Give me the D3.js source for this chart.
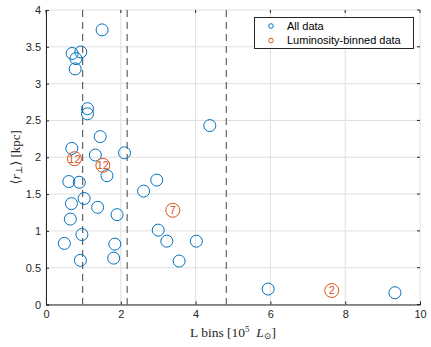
<!DOCTYPE html>
<html><head><meta charset="utf-8">
<script src="https://cdn.jsdelivr.net/npm/d3@7"></script>
<style>body{margin:0;background:#fff}svg{display:block}</style>
</head><body>
<svg id="c" width="431" height="347"></svg>
<script>
const allX = [1.50,0.70,0.93,0.80,0.78,1.11,1.11,4.38,1.45,0.69,1.32,2.10,1.63,0.61,0.89,2.96,2.61,0.68,1.02,1.38,1.90,0.65,0.96,3.00,0.49,1.84,3.23,4.02,0.92,1.81,3.56,5.94,9.33];
const allY = [3.73,3.41,3.43,3.34,3.20,2.66,2.59,2.43,2.28,2.12,2.03,2.06,1.75,1.67,1.66,1.69,1.54,1.37,1.44,1.32,1.22,1.16,0.95,1.01,0.83,0.82,0.86,0.86,0.60,0.63,0.59,0.21,0.16];
const binX = [0.76,1.52,3.39,7.64];
const binY = [1.98,1.89,1.28,0.19];
const binN = ["12","12","7","2"];
const binEdges = [0.98,2.17,4.82];
const xTicks = [0,2,4,6,8,10];
const yTicks = [0,0.5,1,1.5,2,2.5,3,3.5,4];
const legendLabels = ["All data","Luminosity-binned data"];

const svg = d3.select("#c");
const L=46,R=420,T=10,B=304.5;
const x = d3.scaleLinear().domain([0,10]).range([L,R]);
const y = d3.scaleLinear().domain([0,4]).range([B,T]);
const blue="#0072BD", red="#D95319";

// grid
svg.append("g").selectAll("line").data(xTicks).join("line")
  .attr("x1",d=>x(d)).attr("x2",d=>x(d)).attr("y1",T).attr("y2",B)
  .attr("stroke","#dfdfdf").attr("stroke-width",1);
svg.append("g").selectAll("line").data(yTicks).join("line")
  .attr("y1",d=>y(d)).attr("y2",d=>y(d)).attr("x1",L).attr("x2",R)
  .attr("stroke","#dfdfdf").attr("stroke-width",1);

// dashed bin edges
svg.append("g").selectAll("line").data(binEdges).join("line")
  .attr("x1",d=>x(d)).attr("x2",d=>x(d)).attr("y1",T).attr("y2",B)
  .attr("stroke","#555").attr("stroke-width",1.1).attr("stroke-dasharray","7,5");

// axes
const fontSans = "'Liberation Sans', Arial, Helvetica, sans-serif";
const xa = svg.append("g").attr("transform",`translate(0,${B})`)
  .call(d3.axisBottom(x).tickValues(xTicks).tickSize(-3).tickPadding(6).tickFormat(d3.format("d")));
const ya = svg.append("g").attr("transform",`translate(${L},0)`)
  .call(d3.axisLeft(y).tickValues(yTicks).tickSize(-3).tickPadding(5).tickFormat(d=>String(d)));
[xa,ya].forEach(a=>{
  a.select(".domain").attr("stroke","#262626").attr("stroke-width",1);
  a.selectAll(".tick line").attr("stroke","#262626");
  a.selectAll("text").attr("fill","#262626").style("font-family",fontSans).style("font-size","11px");
});
// right and top ticks
svg.append("g").selectAll("line").data(yTicks).join("line")
  .attr("x1",R).attr("x2",R-3).attr("y1",d=>y(d)).attr("y2",d=>y(d)).attr("stroke","#262626");
svg.append("g").selectAll("line").data(xTicks).join("line")
  .attr("x1",d=>x(d)).attr("x2",d=>x(d)).attr("y1",T).attr("y2",T+3).attr("stroke","#262626");

// points
svg.append("g").selectAll("circle").data(allX).join("circle")
  .attr("cx",d=>x(d)).attr("cy",(d,i)=>y(allY[i])).attr("r",6)
  .attr("fill","none").attr("stroke",blue).attr("stroke-width",1);

const bg = svg.append("g").selectAll("g").data(binX).join("g")
  .attr("transform",(d,i)=>`translate(${x(d)},${y(binY[i])})`);
bg.append("circle").attr("r",7).attr("fill","none").attr("stroke",red).attr("stroke-width",1);
bg.append("text").text((d,i)=>binN[i]).attr("text-anchor","middle").attr("dy","0.36em")
  .attr("fill",red).style("font-family",fontSans).style("font-size","11px");

// legend
const lg = svg.append("g");
lg.append("rect").attr("x",254.5).attr("y",17.5).attr("width",159).attr("height",31)
  .attr("fill","#fff").attr("stroke","#262626").attr("stroke-width",1);
lg.selectAll("circle").data(legendLabels).join("circle")
  .attr("cx",271).attr("cy",(d,i)=>26+i*14.5).attr("r",2.3)
  .attr("fill","none").attr("stroke",(d,i)=>i?red:blue).attr("stroke-width",1);
lg.selectAll("text").data(legendLabels).join("text")
  .attr("x",287).attr("y",(d,i)=>26+i*14.5).attr("dy","0.35em").text(d=>d)
  .attr("fill","#000").style("font-family",fontSans).style("font-size","11px");

// axis labels
const serif = "'Liberation Serif','DejaVu Serif',serif";
const xl = svg.append("text").attr("x",233).attr("y",337).attr("text-anchor","middle")
  .style("font-family",serif).style("font-size","13.5px").attr("fill","#262626");
xl.append("tspan").text("L bins [10");
xl.append("tspan").text("5").attr("dy",-5).style("font-size","9px");
xl.append("tspan").text("\u2002").attr("dy",5);
xl.append("tspan").text("L").style("font-style","italic");
xl.append("tspan").text("\u2299").attr("dy",2).style("font-size","9px");
xl.append("tspan").text("]").attr("dy",-2);

const yl = svg.append("text").attr("transform",`translate(20,${(T+B)/2}) rotate(-90)`)
  .attr("text-anchor","middle").style("font-family",serif).style("font-size","13px").attr("fill","#262626");
yl.append("tspan").text("\u27E8");
yl.append("tspan").text("r").style("font-style","italic");
yl.append("tspan").text("\u22A5").attr("dy",2).style("font-size","9px");
yl.append("tspan").text("\u27E9 [kpc]").attr("dy",-2);
</script>
</body></html>
